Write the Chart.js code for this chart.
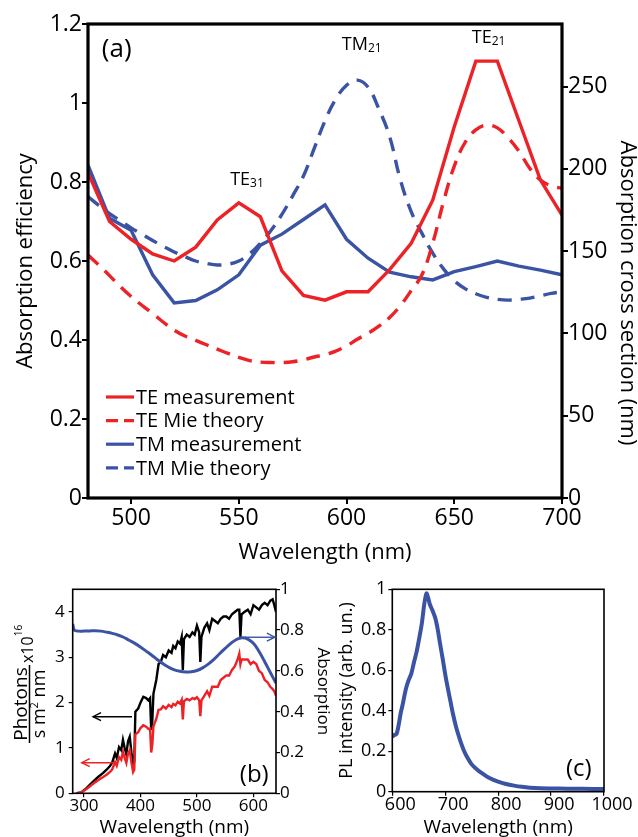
<!DOCTYPE html>
<html><head><meta charset="utf-8">
<script src="https://cdn.jsdelivr.net/npm/chart.js@4.4.0/dist/chart.umd.min.js"></script>
<style>
html,body{margin:0;padding:0;background:#fff;}
#wrap{position:relative;width:638px;height:837px;overflow:hidden;background:#fff;}
canvas{position:absolute;left:0;top:0;}
</style></head><body>
<div id="wrap">
<canvas id="ca" width="638" height="837"></canvas>
<canvas id="cb" width="638" height="837"></canvas>
<canvas id="cc" width="638" height="837"></canvas>
</div>
<script>
// ---------- Panel (a) data ----------
const A_WL = [480,490,500,510,520,530,540,550,560,570,580,590,600,610,620,630,640,650,660,670,680,690,700];
const TE_MEAS = [0.823,0.70,0.655,0.618,0.60,0.635,0.704,0.747,0.712,0.575,0.513,0.501,0.522,0.522,0.578,0.645,0.754,0.94,1.106,1.106,0.955,0.805,0.716];
const TM_MEAS = [0.843,0.708,0.678,0.565,0.494,0.50,0.527,0.565,0.64,0.668,0.705,0.742,0.655,0.607,0.572,0.56,0.552,0.573,0.586,0.60,0.587,0.577,0.565];
const MIE_WL = [480,485,490,495,500,505,510,515,520,525,530,535,540,545,550,555,560,565,570,575,580,585,590,595,600,605,610,615,620,625,630,635,640,645,650,655,660,665,670,675,680,685,690,695,700];
const TE_MIE = [0.615,0.59,0.563,0.535,0.51,0.488,0.467,0.445,0.425,0.41,0.399,0.388,0.377,0.366,0.356,0.348,0.344,0.343,0.343,0.345,0.35,0.357,0.363,0.372,0.385,0.402,0.417,0.435,0.457,0.487,0.525,0.565,0.645,0.75,0.84,0.90,0.932,0.944,0.937,0.912,0.878,0.835,0.805,0.79,0.784];
const TM_MIE = [0.763,0.741,0.72,0.702,0.684,0.668,0.652,0.637,0.623,0.611,0.60,0.594,0.59,0.592,0.60,0.618,0.645,0.678,0.718,0.765,0.815,0.885,0.955,1.01,1.045,1.058,1.04,0.985,0.915,0.805,0.725,0.67,0.62,0.58,0.55,0.53,0.517,0.508,0.503,0.501,0.503,0.506,0.512,0.518,0.522];
const A_XTICKS = [500,550,600,650,700];
const A_YTICKS = [0,0.2,0.4,0.6,0.8,1,1.2];
const A_Y1TICKS = [0,50,100,150,200,250];
const A_LABELS = [
  {t:'TE', s:'31', x:546, y:0.792},
  {t:'TM', s:'21', x:597.8, y:1.134},
  {t:'TE', s:'21', x:658.1, y:1.151}
];

// ---------- Panel (b) data ----------
const SOL_WL = [287,295,305,316,325,334,340,346,350,355,358,362,366,369,372,375,378,381,384,387,389,391,396,400,405,410,414,417,419,421,423,428,432,436,440,445,450,455,458,462,466,470,473,475,477,482,487,492,496,500,504,506,508,513,518,522,527,532,537,542,547,552,557,562,567,572,575,577,579,584,590,595,600,605,610,615,620,625,630,634,637,640];
const SOLAR = [0,0.02,0.12,0.26,0.36,0.45,0.52,0.6,0.68,0.88,0.78,1.02,0.95,1.18,1.0,0.86,1.15,1.25,0.9,0.62,0.7,1.8,1.87,2.0,2.13,2.1,2.05,2.1,1.4,1.6,2.2,2.5,2.85,2.9,3.05,3.0,3.15,3.1,3.25,3.2,3.35,3.3,3.45,2.72,3.4,3.5,3.45,3.55,3.5,3.7,3.55,2.9,3.45,3.65,3.75,3.6,3.85,3.8,3.75,3.85,3.9,3.9,3.85,3.95,4.0,4.05,4.05,3.45,3.95,4.0,4.05,3.95,4.15,4.1,4.05,4.15,4.2,4.15,4.25,4.28,4.15,4.0];
const ABSORBED = [0,0.016,0.1,0.21,0.29,0.36,0.41,0.47,0.53,0.69,0.61,0.8,0.74,0.92,0.78,0.67,0.88,0.95,0.68,0.47,0.52,1.3,1.35,1.44,1.5,1.47,1.42,1.43,0.9,1.08,1.48,1.64,1.84,1.85,1.92,1.87,1.95,1.9,1.97,1.94,2.02,1.98,2.06,1.63,2.03,2.08,2.05,2.1,2.08,2.12,2.05,1.7,2.05,2.15,2.25,2.15,2.35,2.35,2.35,2.5,2.55,2.6,2.6,2.72,2.8,2.95,3.08,2.85,2.95,2.95,2.95,2.85,2.9,2.85,2.7,2.65,2.5,2.45,2.35,2.3,2.25,2.15];
const ABS_WL = [280,283,290,300,310,320,330,340,350,360,370,380,390,400,410,420,430,440,450,460,470,480,490,500,510,520,530,540,550,560,570,580,590,600,610,620,630,640];
const ABSORPTION = [0.83,0.80,0.795,0.795,0.796,0.797,0.795,0.79,0.784,0.776,0.765,0.75,0.735,0.717,0.697,0.677,0.655,0.635,0.618,0.605,0.598,0.595,0.596,0.602,0.615,0.633,0.656,0.684,0.71,0.735,0.754,0.762,0.756,0.735,0.695,0.645,0.592,0.54];
const B_XTICKS = [300,400,500,600];
const B_YTICKS = [0,1,2,3,4];
const B_Y1TICKS = [0,0.2,0.4,0.6,0.8,1];
const B_ARROWS = [
  {from:385, to:316, y:1.69, axis:'y', color:'#000'},
  {from:355, to:296, y:0.675, axis:'y', color:'#EC2227'},
  {from:585, to:638, y:0.765, axis:'y1', color:'#3A53A4'}
];

// ---------- Panel (c) data ----------
const PL_WL = [600,604,608,612,616,620,625,630,636,641,646,651,656,660,663,665,668,671,676,681,686,690,695,700,705,710,715,720,725,730,735,740,750,760,770,780,790,800,815,830,845,860,880,900,930,960,1000];
const PL = [0.272,0.28,0.285,0.33,0.39,0.435,0.5,0.545,0.585,0.64,0.692,0.76,0.835,0.92,0.965,0.98,0.955,0.925,0.895,0.86,0.8,0.735,0.66,0.58,0.51,0.445,0.38,0.325,0.28,0.24,0.205,0.178,0.135,0.11,0.09,0.073,0.06,0.05,0.038,0.03,0.024,0.02,0.017,0.016,0.015,0.014,0.013];
const C_XTICKS = [600,700,800,900,1000];
const C_YTICKS = [0,0.2,0.4,0.6,0.8,1];

const RED = '#EC2227', BLUE = '#3A53A4';
const FONT = '"Open Sans", "DejaVu Sans", sans-serif';
Chart.defaults.font.family = FONT;
Chart.defaults.color = '#000';

const pts = (xs, ys) => xs.map((x, i) => ({x, y: ys[i]}));

function axis(o){
  return {
    type:'linear', position:o.pos, min:o.min, max:o.max,
    afterBuildTicks: s => { s.ticks = o.ticks.map(v => ({value:v})); },
    afterFit: s => { if (o.w != null) s.width = o.w; if (o.h != null) s.height = o.h; },
    grid:{drawOnChartArea:false, drawTicks:true, tickLength:o.tl, tickWidth:o.tw, tickColor:'#000', color:'#000', lineWidth:o.tw},
    border:{display:false},
    ticks:{color:'#000', autoSkip:false, maxRotation:0, minRotation:0, padding:o.pad, labelOffset:o.lo || 0,
           font:{size:o.fs, lineHeight:o.lh}, callback: v => String(v)},
    title: o.title ? {display:true, text:o.title, color:'#000', font:{size:o.tfs, lineHeight:o.tlh}, padding:o.tpad} : {display:false}
  };
}
const common = {
  responsive:false, animation:false, devicePixelRatio:1, events:[],
  plugins:{legend:{display:false}, tooltip:{enabled:false}},
  elements:{point:{radius:0}}
};

function frame(chart, lw){
  const {ctx, chartArea:ca} = chart;
  ctx.save();
  ctx.strokeStyle = '#000'; ctx.lineWidth = lw; ctx.setLineDash([]);
  ctx.strokeRect(ca.left, ca.top, ca.right - ca.left, ca.bottom - ca.top);
  ctx.restore();
}

// ---------- Chart (a) ----------
const decoA = {
  id:'decoA',
  afterDraw(chart){
    frame(chart, 3.2);
    const {ctx, scales:{x, y}} = chart;
    ctx.save();
    // legend
    ctx.font = '20px ' + FONT; ctx.textBaseline = 'middle'; ctx.textAlign = 'left';
    chart.data.datasets.forEach((ds, i) => {
      const yy = 397 + i * 23.6;
      ctx.beginPath();
      ctx.setLineDash(ds.borderDash ? [12, 6] : []);
      ctx.strokeStyle = ds.borderColor; ctx.lineWidth = 3.2;
      ctx.moveTo(106, yy); ctx.lineTo(134, yy); ctx.stroke();
      ctx.setLineDash([]);
      ctx.fillStyle = '#000';
      ctx.fillText(ds.label, 136, yy + 1);
    });
    // panel letter
    ctx.textBaseline = 'alphabetic';
    ctx.font = '26px ' + FONT;
    ctx.fillText('(a)', x.getPixelForValue(486.4), y.getPixelForValue(1.116));
    // mode labels
    A_LABELS.forEach(l => {
      const px = x.getPixelForValue(l.x), py = y.getPixelForValue(l.y);
      ctx.font = '18px ' + FONT;
      ctx.fillText(l.t, px, py);
      const w = ctx.measureText(l.t).width;
      ctx.font = '12px ' + FONT;
      ctx.fillText(l.s, px + w, py + 2);
    });
    // right axis title
    ctx.translate(627, 293);
    ctx.rotate(Math.PI / 2);
    ctx.font = '22px ' + FONT; ctx.textAlign = 'center'; ctx.textBaseline = 'middle';
    ctx.fillText('Absorption cross section (nm)', 0, 0);
    ctx.restore();
  }
};

new Chart(document.getElementById('ca'), {
  type:'line',
  data:{datasets:[
    {label:'TE measurement', data:pts(A_WL, TE_MEAS), borderColor:RED, borderWidth:3.4, tension:0, yAxisID:'y'},
    {label:'TE Mie theory', data:pts(MIE_WL, TE_MIE), borderColor:RED, borderWidth:3.4, borderDash:[14, 9], tension:0.4, yAxisID:'y'},
    {label:'TM measurement', data:pts(A_WL, TM_MEAS), borderColor:BLUE, borderWidth:3.4, tension:0, yAxisID:'y'},
    {label:'TM Mie theory', data:pts(MIE_WL, TM_MIE), borderColor:BLUE, borderWidth:3.4, borderDash:[14, 9], tension:0.4, yAxisID:'y'}
  ]},
  options:Object.assign({}, common, {
    layout:{padding:{left:8, right:0, top:24, bottom:269}},
    scales:{
      x: axis({pos:'bottom', min:480, max:700, ticks:A_XTICKS, h:70, tl:6, tw:2, pad:1, fs:23, lh:1.2,
               title:'Wavelength (nm)', tfs:22, tlh:1.2, tpad:{top:0, bottom:2}}),
      y: axis({pos:'left', min:0, max:1.2, ticks:A_YTICKS, w:80, tl:6, tw:2, pad:0, fs:23, lh:1.2,
               title:'Absorption efficiency', tfs:22, tlh:1.2, tpad:{top:5, bottom:0}}),
      y1: axis({pos:'right', min:0, max:288, ticks:A_Y1TICKS, w:76, tl:6, tw:2, pad:0, fs:23, lh:1.2})
    }
  }),
  plugins:[decoA]
});

// ---------- Chart (b) ----------
const decoB = {
  id:'decoB',
  afterDraw(chart){
    frame(chart, 1.6);
    const {ctx, scales} = chart;
    const x = scales.x;
    ctx.save();
    B_ARROWS.forEach(a => {
      const sy = scales[a.axis];
      const x0 = x.getPixelForValue(a.from), x1 = x.getPixelForValue(a.to), py = sy.getPixelForValue(a.y);
      const d = x1 > x0 ? -1 : 1;
      ctx.strokeStyle = a.color; ctx.lineWidth = 1.4;
      ctx.beginPath(); ctx.moveTo(x0, py); ctx.lineTo(x1, py); ctx.stroke();
      ctx.beginPath(); ctx.moveTo(x1 + d * 8, py - 4); ctx.lineTo(x1, py); ctx.lineTo(x1 + d * 8, py + 4); ctx.stroke();
    });
    ctx.fillStyle = '#000';
    ctx.font = '24px ' + FONT; ctx.textAlign = 'left'; ctx.textBaseline = 'alphabetic';
    ctx.fillText('(b)', x.getPixelForValue(576), scales.y.getPixelForValue(0.25));
    // left axis title (fraction)
    ctx.translate(29.5, 704);
    ctx.rotate(-Math.PI / 2);
    ctx.textAlign = 'center';
    ctx.font = '19px ' + FONT;
    ctx.fillText('Photons', 0, -2.5);
    ctx.fillRect(-39, -0.75, 78, 1.5);
    ctx.textAlign = 'left';
    const fBig = '18px ' + FONT, fSup = '11px ' + FONT;
    ctx.font = fBig; const wA = ctx.measureText('s m').width, wC = ctx.measureText(' nm').width;
    ctx.font = fSup; const wB = ctx.measureText('2').width;
    let sx = -(wA + wB + wC) / 2;
    ctx.font = fBig; ctx.fillText('s m', sx, 15); sx += wA;
    ctx.font = fSup; ctx.fillText('2', sx, 8); sx += wB;
    ctx.font = fBig; ctx.fillText(' nm', sx, 15);
    ctx.font = '16px ' + FONT; ctx.fillText('x10', 41, 3.8);
    const wX = ctx.measureText('x10').width;
    ctx.font = '10px ' + FONT; ctx.fillText('16', 41 + wX, -7.5);
    ctx.restore();
  }
};

new Chart(document.getElementById('cb'), {
  type:'line',
  data:{datasets:[
    {label:'Absorption', data:pts(ABS_WL, ABSORPTION), borderColor:BLUE, borderWidth:3, tension:0.4, yAxisID:'y1'},
    {label:'Absorbed photons', data:pts(SOL_WL, ABSORBED), borderColor:RED, borderWidth:2.4, tension:0, yAxisID:'y'},
    {label:'Solar photons', data:pts(SOL_WL, SOLAR), borderColor:'#000', borderWidth:2.4, tension:0, yAxisID:'y'}
  ]},
  options:Object.assign({}, common, {
    layout:{padding:{left:32.7, right:302, top:589.3, bottom:0}},
    scales:{
      x: axis({pos:'bottom', min:280, max:640, ticks:B_XTICKS, h:43.7, tl:4, tw:1.2, pad:0, fs:17, lh:1,
               title:'Wavelength (nm)', tfs:19, tlh:1, tpad:{top:0, bottom:0}}),
      y: axis({pos:'left', min:0, max:4.5, ticks:B_YTICKS, w:40, tl:4, tw:1.2, pad:4, fs:17, lh:1}),
      y1: axis({pos:'right', min:0, max:1, ticks:B_Y1TICKS, w:60, tl:4, tw:1.2, pad:0, fs:17, lh:1,
               title:'Absorption', tfs:17, tlh:1, tpad:{top:4.5, bottom:0}})
    }
  }),
  plugins:[decoB]
});

// ---------- Chart (c) ----------
const decoC = {
  id:'decoC',
  afterDraw(chart){
    frame(chart, 1.6);
    const {ctx, scales:{x, y}} = chart;
    ctx.save();
    ctx.fillStyle = '#000';
    ctx.font = '24px ' + FONT; ctx.textAlign = 'left'; ctx.textBaseline = 'alphabetic';
    ctx.fillText('(c)', x.getPixelForValue(928), y.getPixelForValue(0.078));
    ctx.restore();
  }
};

new Chart(document.getElementById('cc'), {
  type:'line',
  data:{datasets:[
    {label:'PL', data:pts(PL_WL, PL), borderColor:BLUE, borderWidth:4, tension:0.3, yAxisID:'y'}
  ]},
  options:Object.assign({}, common, {
    layout:{padding:{left:332.3, right:34, top:589.3, bottom:0}},
    scales:{
      x: axis({pos:'bottom', min:600, max:1000, ticks:C_XTICKS, h:45.3, tl:4, tw:1.2, pad:0, lo:8, fs:18, lh:1,
               title:'Wavelength (nm)', tfs:19, tlh:1, tpad:{top:0, bottom:0}}),
      y: axis({pos:'left', min:0, max:1, ticks:C_YTICKS, w:60, tl:4, tw:1.2, pad:2, fs:18, lh:1,
               title:'PL intensity (arb. un.)', tfs:18, tlh:1, tpad:{top:6, bottom:0}})
    }
  }),
  plugins:[decoC]
});
</script>
</body></html>
